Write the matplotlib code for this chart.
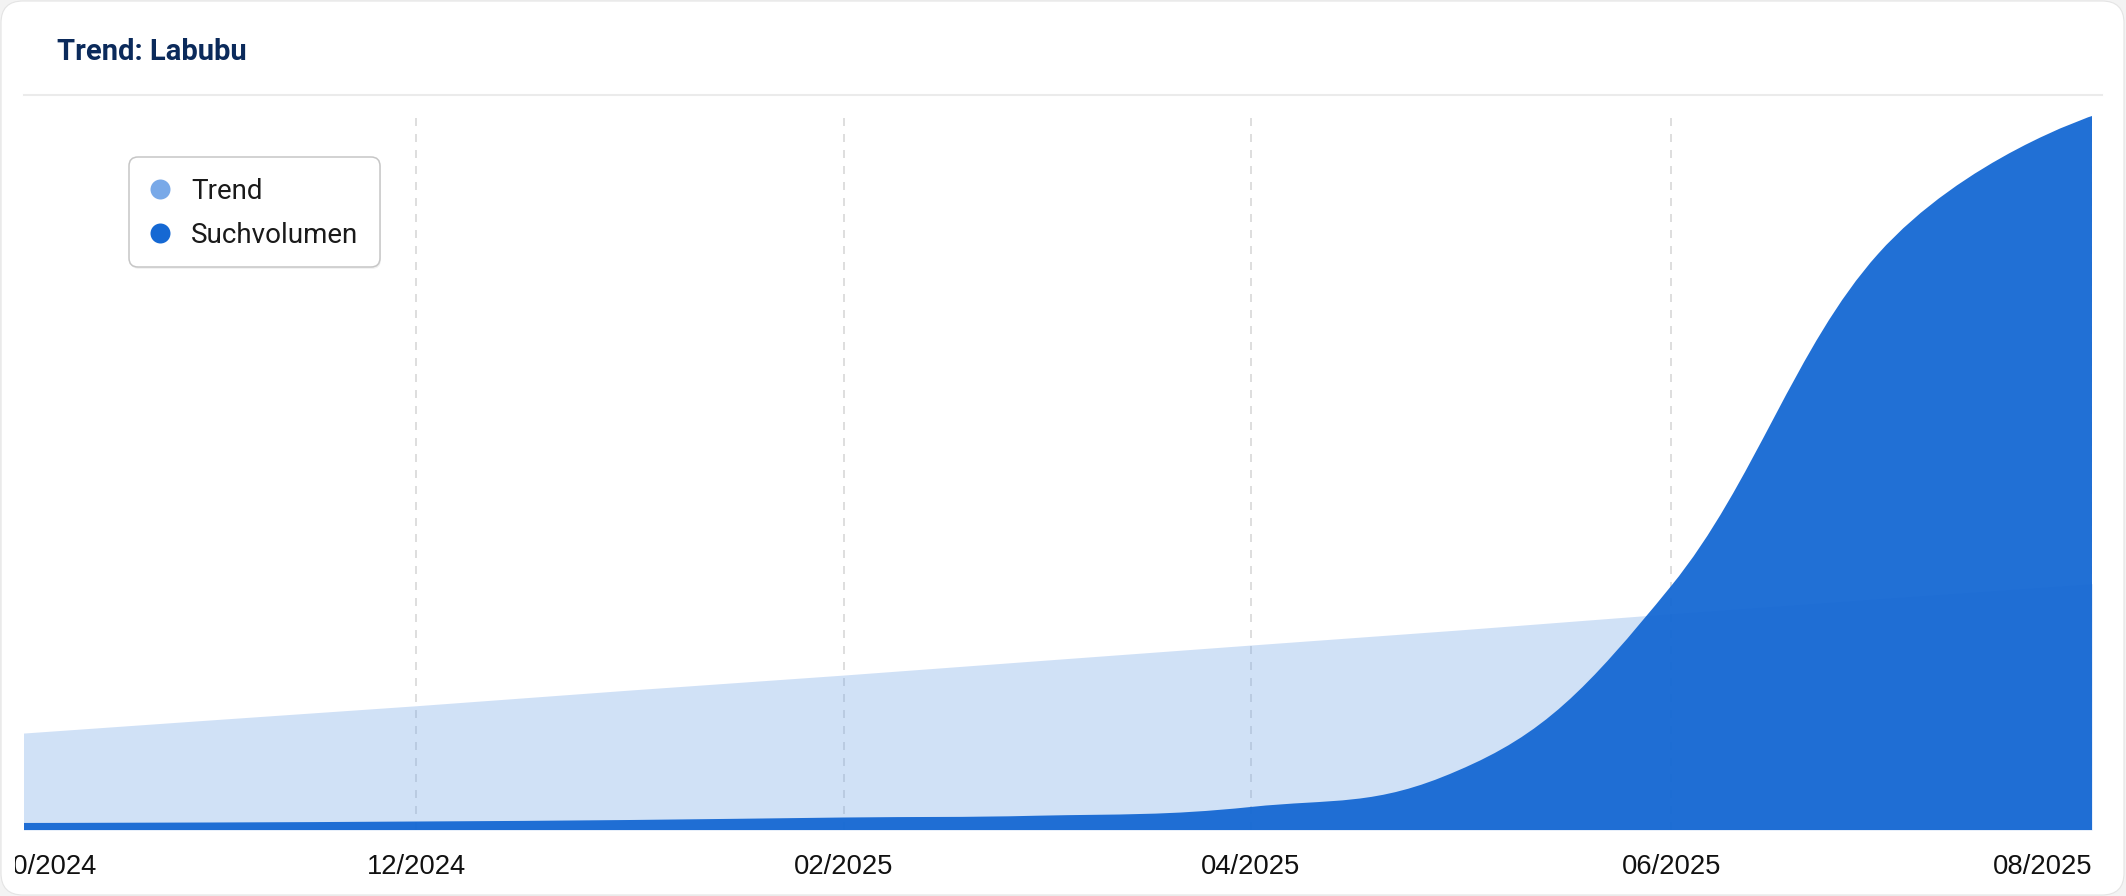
import numpy as np
import matplotlib
matplotlib.use("Agg")
import matplotlib.pyplot as plt
import matplotlib.dates as mdates
from matplotlib.path import Path
from matplotlib.patches import PathPatch, FancyBboxPatch, Rectangle
from matplotlib.lines import Line2D
from matplotlib.transforms import IdentityTransform
from datetime import datetime

# ---------------- data ----------------
months = ["2024-10-01", "2024-11-01", "2024-12-01", "2025-01-01", "2025-02-01",
          "2025-03-01", "2025-04-01", "2025-05-01", "2025-06-01", "2025-07-01",
          "2025-08-01"]
trend = [13.3, 15.4, 17.4, 19.6, 21.7, 23.7, 25.9, 28.0, 30.3, 32.4, 34.5]
suchvolumen = [0.98, 1.05, 1.19, 1.40, 1.75, 2.0, 3.22, 8.3, 34.2, 80.7, 100.0]
tick_months = ["2024-12-01", "2025-02-01", "2025-04-01", "2025-06-01", "2025-08-01"]
tick_labels = ["12/2024", "02/2025", "04/2025", "06/2025", "08/2025"]
first_label = "10/2024"
title = "Trend: Labubu"
series_names = ["Trend", "Suchvolumen"]
series_colors = ["#79a9e8", "#1568d3"]

# ---------------- figure ----------------
W, H = 2126, 896
fig = plt.figure(figsize=(W / 100, H / 100), dpi=100)
fig.patch.set_facecolor("#f3f3f3")
ID = IdentityTransform()

card = FancyBboxPatch((1, 1), 2123, 894, boxstyle="round,pad=0,rounding_size=22",
                      fc="white", ec="#e4e4e4", lw=0.8, transform=ID, zorder=-10)
fig.add_artist(card)

# title + separator
fig.text(57, H - 59.5, title, fontfamily="Roboto", fontweight="bold", fontsize=21,
         color="#0b2a5b", va="baseline", ha="left", transform=ID)
fig.add_artist(Line2D([24, 2102], [H - 94.5, H - 94.5], color="#ebebeb", lw=1.5,
                      transform=ID))

# axes
ax = fig.add_axes([24 / W, (H - 830) / H, (2092 - 24) / W, (830 - 116) / H])
ax.set_facecolor("none")
for s in ax.spines.values():
    s.set_visible(False)

xs = mdates.date2num([datetime.fromisoformat(m) for m in months])
tx = mdates.date2num([datetime.fromisoformat(m) for m in tick_months])

ax.fill_between(xs, 0, trend, color=series_colors[0], alpha=0.35, lw=0, zorder=2)


def spline_area(x, y, base=0.0, smoothing=1.5):
    n = len(x)
    denom = smoothing + 1
    lc = [None] * n
    rc = [None] * n
    for i in range(n):
        if 0 < i < n - 1:
            lcx = (smoothing * x[i] + x[i - 1]) / denom
            lcy = (smoothing * y[i] + y[i - 1]) / denom
            rcx = (smoothing * x[i] + x[i + 1]) / denom
            rcy = (smoothing * y[i] + y[i + 1]) / denom
            corr = (rcy - lcy) * (rcx - x[i]) / (rcx - lcx) + y[i] - rcy
            lcy += corr
            rcy += corr
            if lcy > y[i - 1] and lcy > y[i]:
                lcy = max(y[i - 1], y[i]); rcy = 2 * y[i] - lcy
            elif lcy < y[i - 1] and lcy < y[i]:
                lcy = min(y[i - 1], y[i]); rcy = 2 * y[i] - lcy
            if rcy > y[i + 1] and rcy > y[i]:
                rcy = max(y[i + 1], y[i]); lcy = 2 * y[i] - rcy
            elif rcy < y[i + 1] and rcy < y[i]:
                rcy = min(y[i + 1], y[i]); lcy = 2 * y[i] - rcy
            lc[i] = (lcx, lcy)
            rc[i] = (rcx, rcy)
        else:
            lc[i] = rc[i] = (x[i], y[i])
    verts = [(x[0], base), (x[0], y[0])]
    codes = [Path.MOVETO, Path.LINETO]
    for i in range(1, n):
        verts += [rc[i - 1], lc[i], (x[i], y[i])]
        codes += [Path.CURVE4] * 3
    verts += [(x[-1], base), (x[0], base)]
    codes += [Path.LINETO, Path.CLOSEPOLY]
    return Path(verts, codes)


ax.add_patch(PathPatch(spline_area(list(xs), suchvolumen), fc=series_colors[1],
                       alpha=0.95, lw=0, zorder=3))

left = mdates.date2num(datetime(2024, 10, 5, 4))
ax.set_xlim(left, tx[-1])
ax.set_ylim(0, 100)
ax.set_yticks([])
ax.set_xticks(tx, tick_labels)
ax.set_axisbelow(True)
lw = 1.08
ax.grid(axis="x", color="#d4d4d4", lw=lw, linestyle=(0, (5.76 / lw, 5.76 / lw)))
ax.tick_params(axis="x", length=0, pad=17, labelsize=19.7, labelcolor="#111111")
for lab in ax.get_xticklabels():
    lab.set_fontfamily("Liberation Sans")
ax.get_xticklabels()[-1].set_horizontalalignment("right")

t0 = fig.text(-2, H - 830 - 17 * 100 / 72, first_label, fontfamily="Liberation Sans",
              fontsize=19.7, color="#111111", va="top", ha="left", transform=ID)
t0.set_clip_path(Rectangle((15, 0), 3000, 3000, transform=ID))

# legend
fig.add_artist(FancyBboxPatch((130, H - 269), 251, 110,
                              boxstyle="round,pad=0,rounding_size=9",
                              fc="black", alpha=0.05, lw=0, transform=ID, zorder=9))
fig.add_artist(FancyBboxPatch((129, H - 267), 251, 110,
                              boxstyle="round,pad=0,rounding_size=9",
                              fc="white", ec="#c6c6c6", lw=1.1, transform=ID, zorder=10))
for name, col, yc in zip(series_names, series_colors, [189, 233]):
    fig.add_artist(Line2D([160], [H - yc], marker="o", ms=14.4, color=col, mec="none",
                          ls="none", transform=ID, zorder=11))
    fig.text(191, H - yc - 10, name, fontfamily="Roboto", fontsize=20, color="#1a1a1a",
             va="baseline", ha="left", transform=ID, zorder=11)

fig.savefig("out.png", dpi=100, facecolor=fig.get_facecolor())
